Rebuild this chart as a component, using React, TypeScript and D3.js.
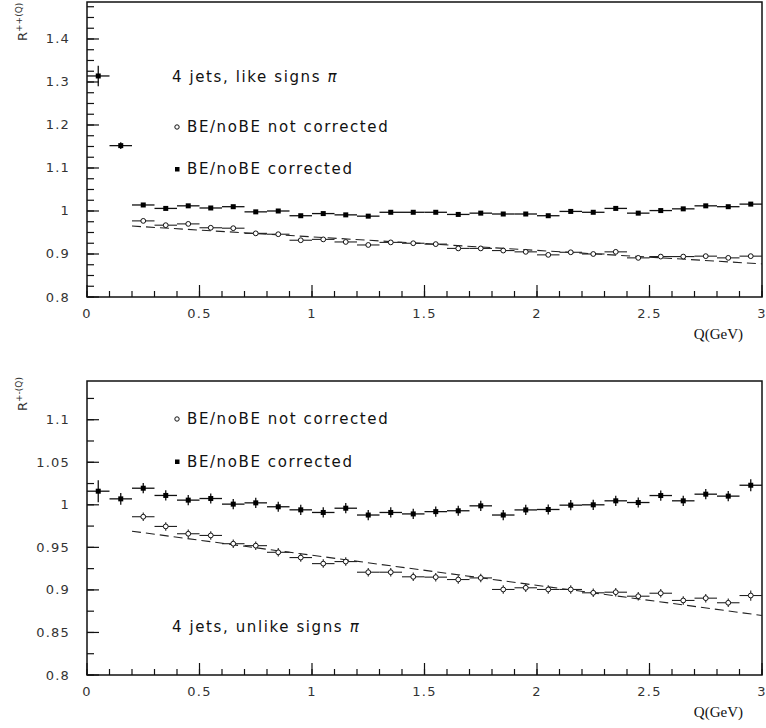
import React from 'react';
import * as d3 from 'd3';

// Bin centres (GeV), bin width 0.1
const Q = [0.05, 0.15, 0.25, 0.35, 0.45, 0.55, 0.65, 0.75, 0.85, 0.95,
  1.05, 1.15, 1.25, 1.35, 1.45, 1.55, 1.65, 1.75, 1.85, 1.95,
  2.05, 2.15, 2.25, 2.35, 2.45, 2.55, 2.65, 2.75, 2.85, 2.95];

// Top panel: like signs
const topCorrected = [1.314, 1.152, 1.014, 1.006, 1.012, 1.007, 1.010, 0.998, 1.000, 0.989,
  0.994, 0.991, 0.988, 0.997, 0.997, 0.997, 0.992, 0.995, 0.993, 0.993,
  0.989, 0.999, 0.997, 1.006, 0.995, 1.001, 1.005, 1.012, 1.010, 1.016];
const topCorrectedErr = [0.024, 0.008, 0.003, 0.003, 0.003, 0.003, 0.003, 0.003, 0.003, 0.003,
  0.003, 0.003, 0.003, 0.003, 0.003, 0.003, 0.003, 0.003, 0.003, 0.003,
  0.003, 0.003, 0.003, 0.003, 0.003, 0.003, 0.003, 0.003, 0.003, 0.003];
const topNotCorrected = [null, null, 0.977, 0.967, 0.970, 0.961, 0.960, 0.948, 0.946, 0.932,
  0.934, 0.928, 0.921, 0.927, 0.925, 0.923, 0.913, 0.913, 0.908, 0.905,
  0.898, 0.904, 0.900, 0.905, 0.891, 0.894, 0.894, 0.895, 0.891, 0.895];
const topFitQ = [0.2, 3.0];
const topFitR = [0.965, 0.877];

// Bottom panel: unlike signs
const botCorrected = [1.016, 1.007, 1.0195, 1.011, 1.0055, 1.0074, 1.0008, 1.0023, 0.9977, 0.9941,
  0.991, 0.996, 0.988, 0.991, 0.9893, 0.992, 0.993, 0.9988, 0.988, 0.994,
  0.9945, 0.9996, 1.000, 1.0047, 1.0027, 1.0109, 1.0047, 1.0125, 1.0102, 1.023];
const botCorrectedErr = [0.013, 0.007, 0.006, 0.006, 0.006, 0.006, 0.006, 0.006, 0.006, 0.006,
  0.006, 0.006, 0.006, 0.006, 0.006, 0.006, 0.006, 0.006, 0.006, 0.006,
  0.006, 0.006, 0.006, 0.006, 0.006, 0.006, 0.006, 0.006, 0.006, 0.007];
const botNotCorrected = [null, null, 0.986, 0.9746, 0.966, 0.964, 0.9543, 0.952, 0.9442, 0.938,
  0.9309, 0.9333, 0.9208, 0.9208, 0.9154, 0.915, 0.9122, 0.9141, 0.9005, 0.9025,
  0.9005, 0.9005, 0.8966, 0.8973, 0.8926, 0.8961, 0.8876, 0.8903, 0.8849, 0.8934];
const botNotCorrectedErr = [0, 0, 0.005, 0.005, 0.005, 0.005, 0.005, 0.005, 0.005, 0.005,
  0.005, 0.005, 0.005, 0.005, 0.005, 0.005, 0.005, 0.005, 0.005, 0.005,
  0.005, 0.005, 0.005, 0.005, 0.005, 0.005, 0.005, 0.005, 0.005, 0.006];
const botFitQ = [0.2, 3.0];
const botFitR = [0.969, 0.870];

const xMajorTicks = [0, 0.5, 1, 1.5, 2, 2.5, 3];
const topYTicks = [0.8, 0.9, 1, 1.1, 1.2, 1.3, 1.4];
const botYTicks = [0.8, 0.85, 0.9, 0.95, 1, 1.05, 1.1];

const TICK_FONT = "'DejaVu Sans', sans-serif";
const BIN_HALF = 0.05;

type PanelProps = {
  top: number;
  bottom: number;
  yMax: number;
  yTicks: number[];
  yMinorStep: number;
  corrected: number[];
  correctedErr: number[];
  notCorrected: (number | null)[];
  notCorrectedErr: number[];
  fitQ: number[];
  fitR: number[];
  ylabelSup: string;
  ylabelY: number;
  children?: React.ReactNode;
};

function Panel(p: PanelProps) {
  const x = d3.scaleLinear().domain([0, 3]).range([87, 762]);
  const y = d3.scaleLinear().domain([0.8, p.yMax]).range([p.bottom, p.top]);
  const yMinor = d3.range(0.8, p.yMax, p.yMinorStep).map((v) => +v.toFixed(4));
  const xMinor = d3.range(0, 3.0001, 0.1).map((v) => +v.toFixed(2));
  const fitLine = d3.line<number>().x((_, i) => x(p.fitQ[i])).y((d) => y(d));
  const fmt = (v: number) => String(+v.toFixed(2));
  return (
    <g>
      {/* frame */}
      <rect x={87} y={p.top} width={675} height={p.bottom - p.top} fill="none" stroke="#111" strokeWidth={1.5} />
      {/* y ticks */}
      {yMinor.map((v) => (
        <line key={'ym' + v} x1={87} x2={94} y1={y(v)} y2={y(v)} stroke="#111" strokeWidth={1.2} />
      ))}
      {p.yTicks.map((v) => (
        <g key={'yt' + v}>
          <line x1={87} x2={99} y1={y(v)} y2={y(v)} stroke="#111" strokeWidth={1.2} />
          <text x={70} y={y(v)} textAnchor="end" dominantBaseline="central" fontFamily={TICK_FONT}
            fontSize={13} letterSpacing={1.2} fill="#333">{fmt(v)}</text>
        </g>
      ))}
      {/* x ticks */}
      {xMinor.map((v) => (
        <line key={'xm' + v} x1={x(v)} x2={x(v)} y1={p.bottom} y2={p.bottom - 6} stroke="#111" strokeWidth={1.2} />
      ))}
      {xMajorTicks.map((v) => (
        <g key={'xt' + v}>
          <line x1={x(v)} x2={x(v)} y1={p.bottom} y2={p.bottom - 12} stroke="#111" strokeWidth={1.2} />
          <text x={x(v)} y={p.bottom + 16} textAnchor="middle" dominantBaseline="central" fontFamily={TICK_FONT}
            fontSize={13} letterSpacing={1.2} fill="#333">{fmt(v)}</text>
        </g>
      ))}
      <text x={743} y={p.bottom + 37} textAnchor="end" dominantBaseline="central"
        fontFamily="'Liberation Serif', 'Times New Roman', serif" fontSize={15} fill="#111">Q(GeV)</text>
      {/* y label */}
      <text transform={`translate(27,${p.ylabelY}) rotate(-90)`} fontFamily={TICK_FONT} fontSize={13} fill="#333">
        R<tspan fontSize={9} dy={-5}>{p.ylabelSup}</tspan>
      </text>
      {/* fit line */}
      <path d={fitLine(p.fitR) || ''} fill="none" stroke="#222" strokeWidth={1.1} strokeDasharray="9,5" />
      {/* not corrected */}
      {p.notCorrected.map((v, i) => v == null ? null : (
        <g key={'nc' + i}>
          <line x1={x(Q[i] - BIN_HALF)} x2={x(Q[i] + BIN_HALF)} y1={y(v)} y2={y(v)} stroke="#222" strokeWidth={1.1} />
          {p.notCorrectedErr[i] > 0 && (
            <line x1={x(Q[i])} x2={x(Q[i])} y1={y(v - p.notCorrectedErr[i])} y2={y(v + p.notCorrectedErr[i])} stroke="#222" strokeWidth={1.1} />
          )}
          <circle cx={x(Q[i])} cy={y(v)} r={2.4} fill="#fff" stroke="#111" strokeWidth={1} />
        </g>
      ))}
      {/* corrected */}
      {p.corrected.map((v, i) => (
        <g key={'c' + i}>
          <line x1={x(Q[i] - BIN_HALF)} x2={x(Q[i] + BIN_HALF)} y1={y(v)} y2={y(v)} stroke="#111" strokeWidth={1.3} />
          <line x1={x(Q[i])} x2={x(Q[i])} y1={y(v - p.correctedErr[i])} y2={y(v + p.correctedErr[i])} stroke="#111" strokeWidth={1.3} />
          <rect x={x(Q[i]) - 2.5} y={y(v) - 2.5} width={5} height={5} fill="#000" />
        </g>
      ))}
      {p.children}
    </g>
  );
}

const LABEL_FONT = "'DejaVu Sans', sans-serif";

function Label({ x, y, children }: { x: number; y: number; children: React.ReactNode }) {
  return (
    <text x={x} y={y} dominantBaseline="central" fontFamily={LABEL_FONT} fontSize={15} letterSpacing={1.6} fill="#111">
      {children}
    </text>
  );
}

export default function App() {
  return (
    <svg width={766} height={728} style={{ position: 'absolute', left: 0, top: 0, background: '#fff' }}>
      <rect width={766} height={728} fill="#fff" />
      <Panel top={2} bottom={297} yMax={1.486} yTicks={topYTicks} yMinorStep={0.025}
        corrected={topCorrected} correctedErr={topCorrectedErr}
        notCorrected={topNotCorrected} notCorrectedErr={Q.map(() => 0)}
        fitQ={topFitQ} fitR={topFitR} ylabelSup="++(Q)" ylabelY={41}>
        <Label x={172} y={77}>4 jets, like signs <tspan fontStyle="italic">π</tspan></Label>
        <circle cx={177} cy={127} r={2.2} fill="#fff" stroke="#111" strokeWidth={1} />
        <Label x={187} y={127}>BE/noBE not corrected</Label>
        <rect x={175} y={167} width={4.5} height={4.5} fill="#000" />
        <Label x={187} y={169}>BE/noBE corrected</Label>
      </Panel>
      <Panel top={381} bottom={675} yMax={1.1455} yTicks={botYTicks} yMinorStep={0.025}
        corrected={botCorrected} correctedErr={botCorrectedErr}
        notCorrected={botNotCorrected} notCorrectedErr={botNotCorrectedErr}
        fitQ={botFitQ} fitR={botFitR} ylabelSup="+-(Q)" ylabelY={411}>
        <circle cx={177} cy={419} r={2.2} fill="#fff" stroke="#111" strokeWidth={1} />
        <Label x={187} y={419}>BE/noBE not corrected</Label>
        <rect x={175} y={459.5} width={4.5} height={4.5} fill="#000" />
        <Label x={187} y={462}>BE/noBE corrected</Label>
        <Label x={172} y={627}>4 jets, unlike signs <tspan fontStyle="italic">π</tspan></Label>
      </Panel>
    </svg>
  );
}
